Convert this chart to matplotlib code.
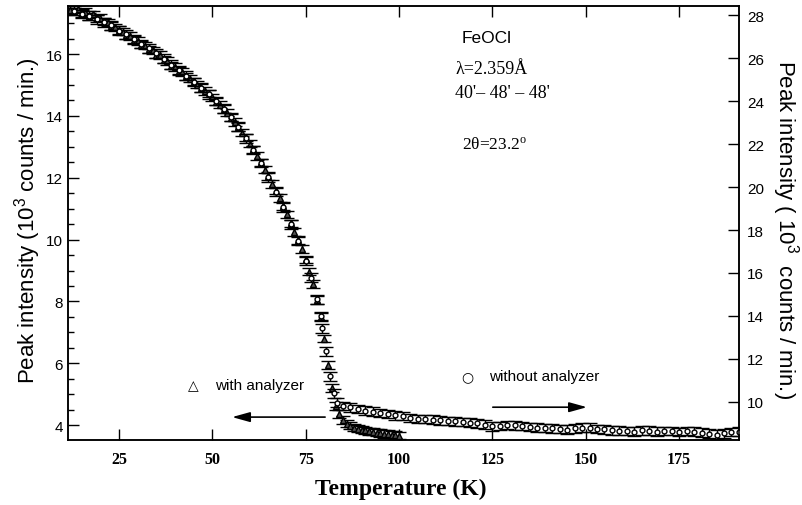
import numpy as np
import matplotlib.pyplot as plt
from matplotlib.ticker import MultipleLocator

plt.rcParams['font.family'] = ['Liberation Sans', 'DejaVu Sans']
plt.rcParams['mathtext.default'] = 'regular'

# with analyzer (triangles), left axis, 10^3 counts/min
t_with = [12, 13, 14, 15, 16, 17, 18, 19, 20, 21, 22, 23, 24, 25, 26, 27, 28, 29, 30,
          31, 32, 33, 34, 35, 36, 37, 38, 39, 40, 41, 42, 43, 44, 45, 46, 47, 48, 49, 50,
          51, 52, 53, 54, 55, 56, 57, 58, 59, 60, 61, 62, 63, 64, 65, 66, 67, 68, 69, 70,
          71, 72, 73, 74, 75, 76, 77, 78, 79, 80, 81, 82, 83, 84, 85, 86, 87, 88, 89, 90,
          91, 92, 93, 94, 95, 96, 97, 98, 99, 100]
i_with = [17.42, 17.38, 17.45, 17.33, 17.36, 17.22, 17.28, 17.15, 17.18, 17.05, 17.02,
          16.90, 16.86, 16.78, 16.72, 16.60, 16.58, 16.45, 16.42, 16.30, 16.27, 16.15,
          16.12, 15.98, 15.97, 15.82, 15.77, 15.62, 15.58, 15.45, 15.42, 15.28, 15.20,
          15.12, 15.01, 14.90, 14.80, 14.72, 14.60, 14.46, 14.36, 14.22, 14.10, 13.94,
          13.80, 13.64, 13.46, 13.30, 13.10, 12.92, 12.70, 12.50, 12.26, 12.05, 11.80,
          11.58, 11.35, 11.08, 10.82, 10.52, 10.25, 9.98, 9.70, 9.36, 8.96, 8.56, 8.05,
          7.50, 6.80, 5.95, 5.20, 4.62, 4.36, 4.16, 4.05, 3.98, 3.92, 3.89, 3.85, 3.83,
          3.80, 3.79, 3.76, 3.75, 3.72, 3.71, 3.69, 3.68, 3.66]
err_with = 0.12

# without analyzer (circles), right axis, 10^3 counts/min
t_without = [13, 15, 17, 19, 21, 23, 25, 27, 29, 31, 33, 35, 37, 39, 41, 43, 45, 47, 49,
             51, 53, 55, 57, 59, 61, 63, 65, 67, 69, 71, 73, 75, 76.5, 78, 79, 79.5, 80.5,
             81.5, 82.5, 83.5, 85, 87, 89, 91, 93, 95, 97, 99, 101, 103, 105, 107, 109,
             111, 113, 115, 117, 119, 121, 123, 125, 127, 129, 131, 133, 135, 137, 139,
             141, 143, 145, 147, 149, 151, 153, 155, 157, 159, 161, 163, 165, 167, 169,
             171, 173, 175, 177, 179, 181, 183, 185, 187, 189, 191]
i_without = [28.21, 28.06, 27.98, 27.80, 27.66, 27.52, 27.28, 27.11, 26.88, 26.66, 26.45,
             26.22, 25.97, 25.70, 25.44, 25.18, 24.89, 24.63, 24.31, 24.00, 23.65, 23.25,
             22.81, 22.27, 21.72, 21.11, 20.45, 19.77, 19.06, 18.26, 17.48, 16.55, 15.78,
             14.77, 14.00, 13.43, 12.35, 11.19, 10.40, 9.97, 9.82, 9.75, 9.68, 9.60, 9.55,
             9.49, 9.43, 9.37, 9.35, 9.26, 9.20, 9.20, 9.17, 9.14, 9.11, 9.09, 9.06, 9.03,
             9.00, 8.94, 8.86, 8.88, 8.93, 8.91, 8.88, 8.84, 8.81, 8.78, 8.77, 8.74, 8.71,
             8.77, 8.81, 8.80, 8.75, 8.72, 8.68, 8.67, 8.65, 8.62, 8.68, 8.67, 8.62, 8.65,
             8.64, 8.61, 8.65, 8.62, 8.57, 8.52, 8.48, 8.54, 8.60, 8.62]
err_without = 0.2

fig = plt.figure(figsize=(8.02, 5.06), dpi=100)
ax = fig.add_axes([0.0854, 0.1285, 0.836, 0.8575])
ax2 = ax.twinx()

ax.errorbar(t_with, i_with, yerr=err_with, fmt='^', ms=4, mfc='#555555', mec='black',
            mew=1.0, ecolor='black', elinewidth=1.0, capsize=5, capthick=1.3)
ax2.errorbar(t_without, i_without, yerr=err_without, fmt='o', ms=3.5, mfc='white',
             mec='black', mew=1.0, ecolor='black', elinewidth=1.0, capsize=5, capthick=1.3)

ax.set_xlim(11.5, 191)
ax.set_ylim(3.52, 17.55)
ax2.set_ylim(8.23, 28.42)

ax.xaxis.set_major_locator(MultipleLocator(25))
ax.yaxis.set_major_locator(MultipleLocator(2))
ax.yaxis.set_minor_locator(MultipleLocator(0.5))
ax2.yaxis.set_major_locator(MultipleLocator(2))

ax.tick_params(axis='x', which='major', direction='in', length=8, width=1, top=True,
               pad=8, labelsize=11.5)
ax.tick_params(axis='y', which='major', direction='in', length=8, width=1, right=False,
               pad=4, labelsize=11)
ax.tick_params(axis='y', which='minor', direction='in', length=4.5, width=1, right=False)
ax2.tick_params(axis='y', direction='in', length=8, width=1, pad=6, labelsize=11)
for lbl in ax.get_xticklabels():
    lbl.set_fontfamily('Liberation Serif')
    lbl.set_fontweight('bold')
for a in (ax, ax2):
    for s in a.spines.values():
        s.set_linewidth(1.1)

# labels
fig.text(28 / 802, 0.563, 'Peak intensity (10$^3$ counts / min.)', rotation=90,
         ha='center', va='center', fontsize=16)
fig.text(785 / 802, 0.547, 'Peak intensity ( 10$^3$  counts / min.)', rotation=270,
         ha='center', va='center', fontsize=16)
fig.text(401 / 802, 0.032, 'Temperature (K)', ha='center', va='center', fontsize=17,
         family='Liberation Serif', fontweight='bold')

# annotations
ax.text(116.8, 16.55, 'FeOCl', fontsize=12.5, va='center')
ax.text(115.0, 15.52, 'λ=2.359Å', fontsize=13, va='center', family='Liberation Serif')
ax.text(115.0, 14.74, "40'– 48' – 48'", fontsize=13, va='center', family='Liberation Serif')
ax.text(116.8, 13.1, '2θ=23.2$^{o}$', fontsize=12.5, va='center', family='Liberation Serif')

ax.text(44.8, 5.29, '△', fontsize=10, ha='center', va='center', family='DejaVu Sans')
ax.text(50.7, 5.29, 'with analyzer', fontsize=11, va='center')
ax.text(118.2, 5.58, '○', fontsize=10, ha='center', va='center', family='DejaVu Sans')
ax.text(124.1, 5.58, 'without analyzer', fontsize=11, va='center')

arrow = dict(arrowstyle='-|>,head_length=0.9,head_width=0.25', color='black', lw=1.2,
             mutation_scale=12, shrinkA=0, shrinkB=0)
ax.annotate('', xy=(55.3, 4.26), xytext=(80.2, 4.26), arrowprops=arrow)
ax.annotate('', xy=(150.3, 4.58), xytext=(125.1, 4.58), arrowprops=arrow)

plt.savefig('out.png', dpi=100)
